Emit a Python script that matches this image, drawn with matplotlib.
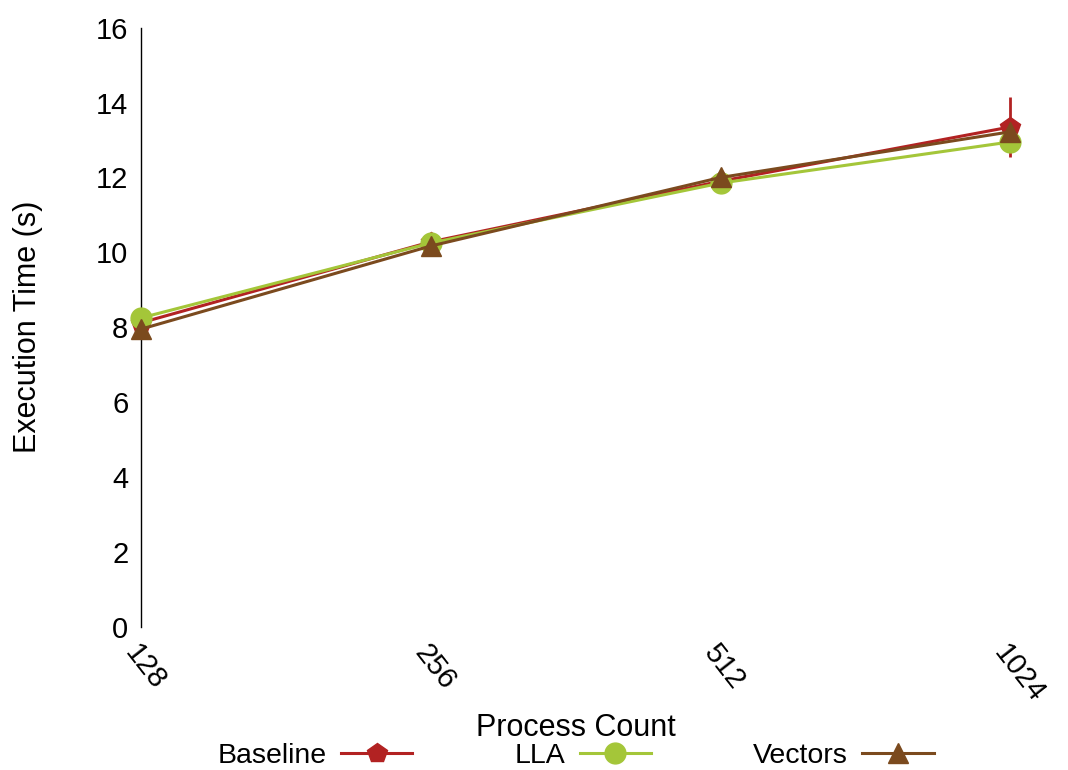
import matplotlib
matplotlib.use("Agg")
import matplotlib.pyplot as plt

procs = ["128", "256", "512", "1024"]
baseline = [8.12, 10.28, 11.9, 13.35]
baseline_err = [0.0, 0.0, 0.0, 0.8]
lla = [8.25, 10.25, 11.85, 12.95]
vectors = [7.95, 10.17, 12.0, 13.22]

plt.rcParams['font.family'] = ['Liberation Sans', 'DejaVu Sans']

fig = plt.figure(figsize=(10.68, 7.7), dpi=100)
ax = fig.add_axes([0.132, 0.186, 0.814, 0.778])

x = list(range(len(procs)))
ax.errorbar(x, baseline, yerr=baseline_err, fmt="none", ecolor="#b22222",
            elinewidth=2, clip_on=False, zorder=3)
h1, = ax.plot(x, baseline, color="#b22222", marker="p", markersize=15,
              linewidth=2.2, label="Baseline", clip_on=False, zorder=3)
h2, = ax.plot(x, lla, color="#a4c639", marker="o", markersize=15, linewidth=2.2,
              label="LLA", clip_on=False, zorder=3)
h3, = ax.plot(x, vectors, color="#7b4a1e", marker="^", markersize=14, linewidth=2.2,
              label="Vectors", clip_on=False, zorder=4)

ax.set_xlim(0, 3)
ax.set_ylim(0, 16)
ax.set_yticks(range(0, 17, 2))
ax.set_xticks(x)
ax.set_xticklabels(procs, rotation=-52, ha="left", rotation_mode="anchor")
ax.tick_params(axis="both", length=0, labelsize=21, pad=9)
for s in ["top", "right", "bottom"]:
    ax.spines[s].set_visible(False)
ax.spines["left"].set_linewidth(1)

ax.set_ylabel("Execution Time (s)", fontsize=22, labelpad=38)
ax.set_xlabel("Process Count", fontsize=22, labelpad=4)

ax.legend(handles=[h1, h2, h3], loc="upper center", bbox_to_anchor=(0.5, -0.152),
          ncol=3, frameon=False, markerfirst=False, fontsize=20.5,
          handlelength=2.5, handletextpad=0.5, columnspacing=3.6)

fig.savefig("out.png", dpi=100)
